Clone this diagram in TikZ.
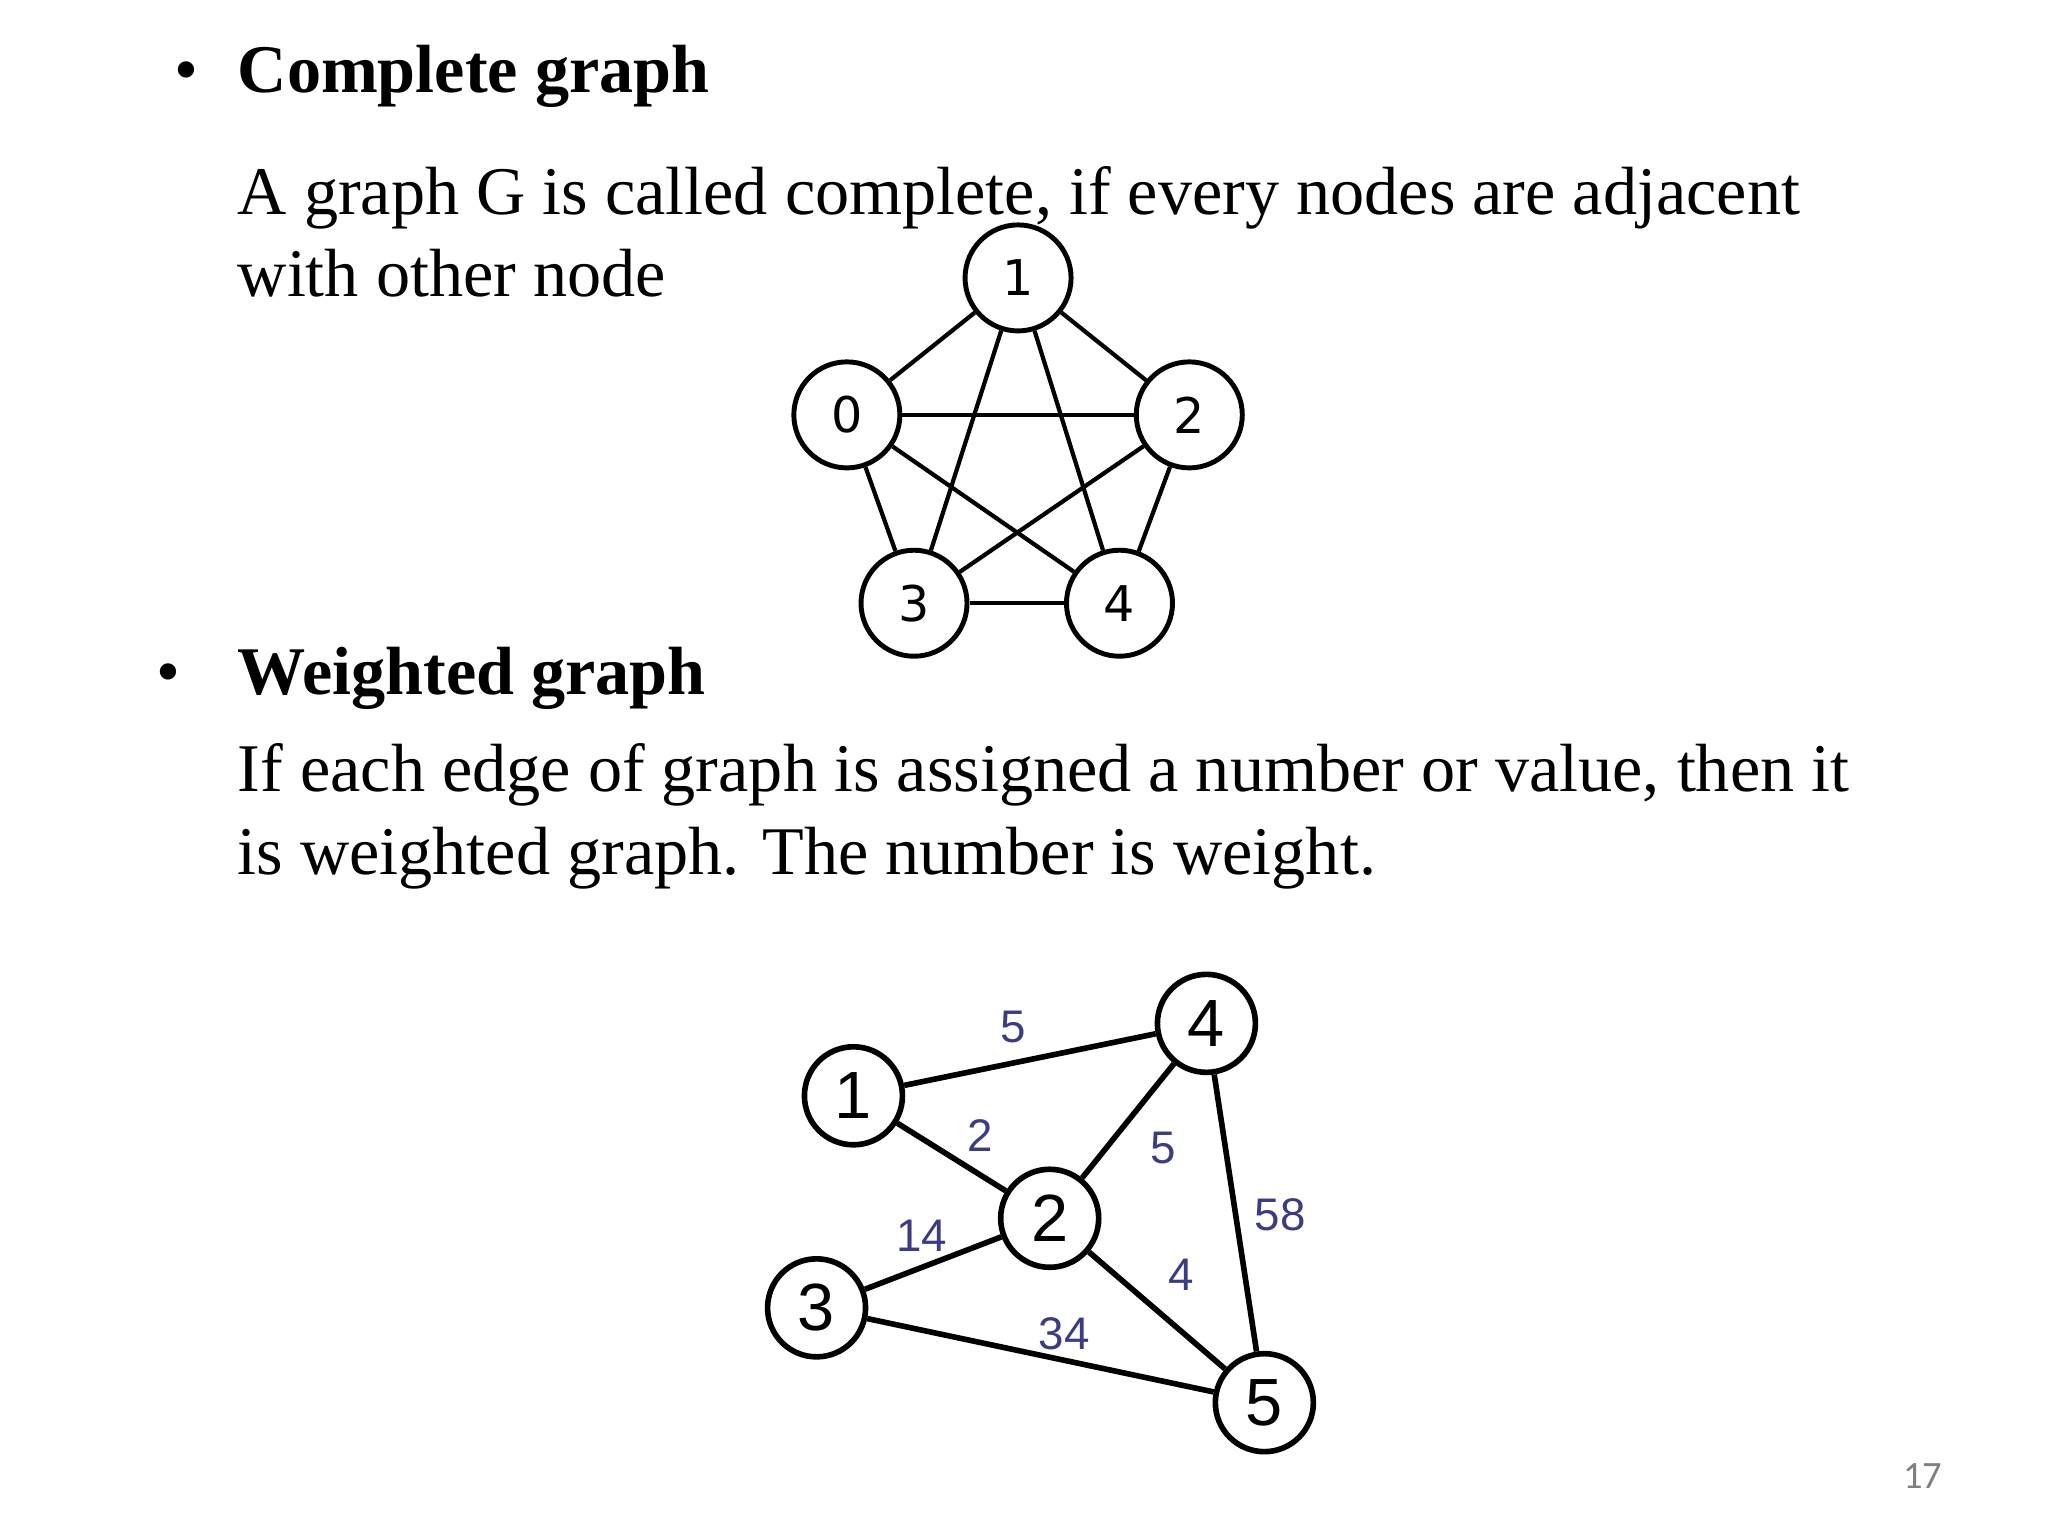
\documentclass[tikz,border=0pt]{standalone}
\usepackage{fontspec}
\setmainfont{Liberation Serif}
\newfontfamily\gsans{DejaVu Sans}
\newfontfamily\wsans{Liberation Sans}
\newfontfamily\pgfont{Carlito}
\begin{document}
\begin{tikzpicture}[x=0.01317cm,y=-0.01317cm,
  txt/.style={anchor=base west,inner sep=0,font=\fontsize{19.4}{24}\selectfont},
  cn/.style={circle,draw,line width=1.4pt,minimum size=1.06cm,inner sep=0,font=\gsans\fontsize{14}{14}\selectfont},
  wn/.style={circle,draw,line width=1.6pt,minimum size=0.98cm,inner sep=0,font=\wsans\fontsize{19}{19}\selectfont},
  ce/.style={line width=1.2pt},
  we/.style={line width=1.6pt},
  wl/.style={text=wcol,font=\wsans\fontsize{13}{13}\selectfont,inner sep=0}]
\definecolor{wcol}{RGB}{60,60,130}
\useasboundingbox (0,0) rectangle (1555,1166);
\node[txt] (b1) at (132,70) {•};
\node[txt] (h1) at (180,70) {\textbf{Complete graph}};
\node[txt] (t1) at (180,163) {A graph G is called complete, if every nodes are adjacent};
\node[txt] (t2) at (180,225) {with other node};
\node[txt] (b2) at (118,527) {•};
\node[txt] (h2) at (180,527) {\textbf{Weighted graph}};
\node[txt] (t3) at (180,601) {If each edge of graph is assigned a number or value, then it};
\node[txt] (t4) at (180,664) {is weighted graph. The number is weight.};
\node[anchor=base,text=gray,font=\pgfont\fontsize{11}{11}\selectfont] (pg) at (1460,1130) {17};
% complete graph
\node[cn] (c1) at (773,211) {1};
\node[cn] (c0) at (643,315) {0};
\node[cn] (c2) at (903,315) {2};
\node[cn] (c3) at (694,458) {3};
\node[cn] (c4) at (850,458) {4};
\foreach \a/\b in {c0/c1,c0/c2,c0/c3,c0/c4,c1/c2,c1/c3,c1/c4,c2/c3,c2/c4,c3/c4}
  \draw[ce] (\a) -- (\b);
% weighted graph
\node[wn] (w1) at (648,832) {1};
\node[wn] (w4) at (916,777) {4};
\node[wn] (w2) at (797,925) {2};
\node[wn] (w3) at (620,993) {3};
\node[wn] (w5) at (960,1065) {5};
\foreach \a/\b in {w1/w4,w1/w2,w2/w4,w4/w5,w3/w2,w2/w5,w3/w5}
  \draw[we] (\a) -- (\b);
\node[wl] (l14) at (769,780) {5};
\node[wl] (l12) at (744,862) {2};
\node[wl] (l24) at (883,872) {5};
\node[wl] (l45) at (972,922) {58};
\node[wl] (l32) at (700,938) {14};
\node[wl] (l25) at (897,968) {4};
\node[wl] (l35) at (808,1013) {34};
\end{tikzpicture}
\end{document}
